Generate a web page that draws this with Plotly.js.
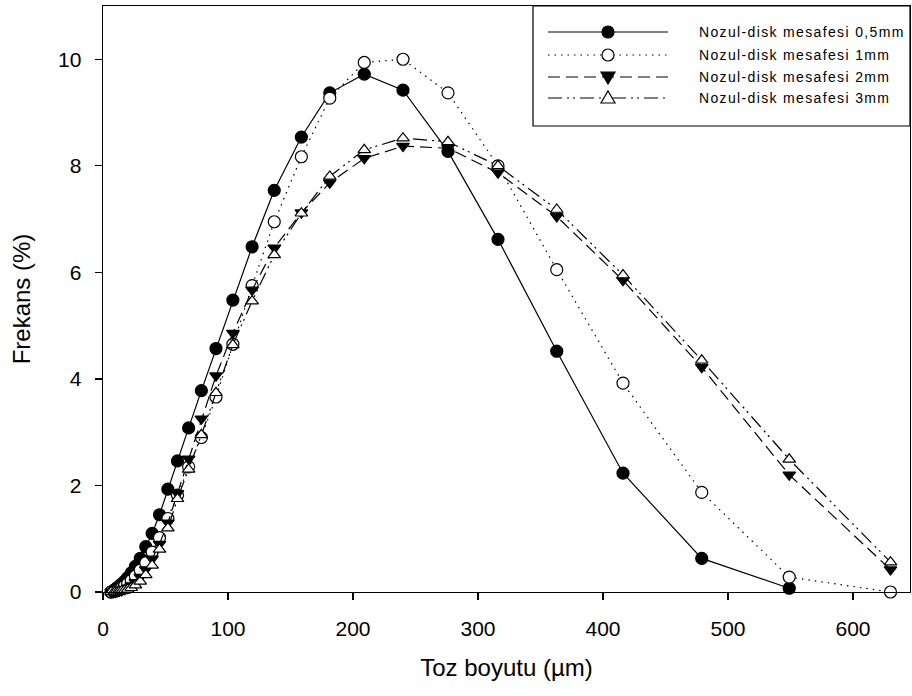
<!DOCTYPE html>
<html>
<head>
<meta charset="utf-8">
<script src="https://cdn.plot.ly/plotly-3.0.1.min.js"></script>
<style>
  html, body { margin: 0; padding: 0; background: #fff; }
  #chart { width: 912px; height: 696px; }
  text.annotation-text { letter-spacing: 1.35px; }
</style>
</head>
<body>
<div id="chart"></div>
<script>
// Particle size classes (µm)
const tozBoyutu = [6.5, 8.6, 9.8, 11.3, 13.0, 14.9, 17.1, 19.7, 22.6, 25.9, 29.8, 34.2, 39.3, 45.2,
  51.9, 59.6, 68.5, 78.7, 90.4, 103.9, 119.3, 137.0, 158.7, 181.4, 209.0, 240.0, 276.0, 316.0,
  363.0, 416.0, 479.0, 549.0, 630.0];

// Frequency (%) for each nozzle-disk distance
const frekans05mm = [0.0, 0.03, 0.05, 0.08, 0.11, 0.15, 0.20, 0.27, 0.36, 0.48, 0.63, 0.85, 1.10, 1.45,
  1.93, 2.46, 3.08, 3.78, 4.57, 5.48, 6.48, 7.54, 8.54, 9.37, 9.72, 9.42, 8.27, 6.62,
  4.52, 2.23, 0.63, 0.07, null];
const frekans1mm = [0.0, 0.01, 0.02, 0.03, 0.05, 0.08, 0.11, 0.16, 0.22, 0.30, 0.41, 0.55, 0.75, 1.02,
  1.38, 1.82, 2.35, 2.90, 3.66, 4.65, 5.75, 6.95, 8.17, 9.27, 9.94, 10.00, 9.37, 8.00,
  6.05, 3.92, 1.87, 0.28, 0.0];
const frekans2mm = [0.0, 0.0, 0.0, 0.01, 0.02, 0.03, 0.05, 0.08, 0.12, 0.18, 0.28, 0.42, 0.62, 0.90,
  1.30, 1.85, 2.50, 3.25, 4.06, 4.86, 5.67, 6.46, 7.12, 7.68, 8.14, 8.37, 8.33, 7.87,
  7.05, 5.85, 4.22, 2.20, 0.42];
const frekans3mm = [0.0, 0.0, 0.0, 0.0, 0.01, 0.02, 0.03, 0.05, 0.08, 0.13, 0.20, 0.32, 0.50, 0.80,
  1.20, 1.75, 2.30, 2.95, 3.74, 4.64, 5.46, 6.33, 7.11, 7.80, 8.30, 8.52, 8.45, 8.00,
  7.18, 5.95, 4.35, 2.49, 0.56];

const seriesNames = ['Nozul-disk mesafesi 0,5mm', 'Nozul-disk mesafesi 1mm',
  'Nozul-disk mesafesi 2mm', 'Nozul-disk mesafesi 3mm'];
const xTicks = [0, 100, 200, 300, 400, 500, 600];
const yTicks = [0, 2, 4, 6, 8, 10];

// Styles per series: line dash, marker symbol, marker fill
const dashes = ['solid', '1.5px,5px', '12px,6px', '14px,5px,2px,4px,2px,5px'];
const symbols = ['circle', 'circle', 'triangle-down', 'triangle-up'];
const fills = ['#000', '#fff', '#000', '#fff'];
const values = [frekans05mm, frekans1mm, frekans2mm, frekans3mm];

const traces = values.map((v, i) => ({
  type: 'scatter',
  mode: 'lines+markers',
  x: tozBoyutu,
  y: v,
  name: seriesNames[i],
  showlegend: false,
  cliponaxis: false,
  connectgaps: false,
  line: { color: '#000', width: 1.2, dash: dashes[i] },
  marker: { symbol: symbols[i], size: i < 2 ? 12 : 11, color: fills[i],
            line: { color: '#000', width: 1.2 } }
}));

// Plot geometry in pixels
const W = 912, H = 696;
const M = { l: 103, r: 2, t: 6, b: 104 };
const PW = W - M.l - M.r, PH = H - M.t - M.b;
const fx = px => (px - M.l) / PW;
const fy = py => (H - M.b - py) / PH;

// Legend box drawn with shapes: line sample, symbol, label
const shapes = [{
  type: 'rect', xref: 'paper', yref: 'paper',
  x0: fx(533), x1: fx(910), y0: fy(126), y1: fy(6),
  line: { color: '#000', width: 1.2 }, fillcolor: '#fff', layer: 'above'
}];
const annotations = [];
const rowY = [32, 55, 77, 98];
const sx0 = 548, sx1 = 668, sxm = 608, r = 6;
rowY.forEach((yy, i) => {
  shapes.push({
    type: 'line', xref: 'paper', yref: 'paper',
    x0: fx(sx0), x1: fx(sx1), y0: fy(yy), y1: fy(yy),
    line: { color: '#000', width: 1.2, dash: dashes[i] }, layer: 'above'
  });
  let sym;
  if (symbols[i] === 'circle') {
    sym = { type: 'circle', x0: fx(sxm - r), x1: fx(sxm + r), y0: fy(yy + r), y1: fy(yy - r) };
  } else if (symbols[i] === 'triangle-down') {
    sym = { type: 'path', path: `M${fx(sxm - 7)},${fy(yy - 5)} L${fx(sxm + 7)},${fy(yy - 5)} L${fx(sxm)},${fy(yy + 7)} Z` };
  } else {
    sym = { type: 'path', path: `M${fx(sxm - 7)},${fy(yy + 5)} L${fx(sxm + 7)},${fy(yy + 5)} L${fx(sxm)},${fy(yy - 7)} Z` };
  }
  Object.assign(sym, { xref: 'paper', yref: 'paper', fillcolor: fills[i],
    line: { color: '#000', width: 1.2 }, layer: 'above' });
  shapes.push(sym);
  annotations.push({
    xref: 'paper', yref: 'paper', x: fx(697), y: fy(yy),
    xanchor: 'left', yanchor: 'middle', showarrow: false,
    text: seriesNames[i],
    font: { family: 'Liberation Sans, Arial, sans-serif', size: 14, color: '#000' }
  });
});

const axisFont = { family: 'Liberation Sans, Arial, sans-serif', size: 21, color: '#000' };
const titleFont = { family: 'Liberation Sans, Arial, sans-serif', size: 24, color: '#000' };
const layout = {
  width: W, height: H,
  margin: M,
  paper_bgcolor: '#fff', plot_bgcolor: '#fff',
  showlegend: false,
  xaxis: {
    range: [0, 645.6], tickvals: xTicks, ticktext: xTicks.map(String),
    ticks: 'outside', ticklen: 7, tickwidth: 1.2, tickcolor: '#000',
    ticklabelstandoff: 10,
    showline: true, linecolor: '#000', linewidth: 1.4, mirror: true,
    showgrid: false, zeroline: false, tickfont: axisFont,
    title: { text: 'Toz boyutu (µm)', font: titleFont, standoff: 20 },
    automargin: false
  },
  yaxis: {
    range: [0, 11], tickvals: yTicks, ticktext: yTicks.map(String),
    ticks: 'outside', ticklen: 7, tickwidth: 1.2, tickcolor: '#000',
    ticklabelstandoff: 9,
    showline: true, linecolor: '#000', linewidth: 1.4, mirror: true,
    showgrid: false, zeroline: false, tickfont: axisFont,
    title: { text: 'Frekans (%)', font: titleFont, standoff: 20 },
    automargin: false
  },
  shapes: shapes,
  annotations: annotations
};

Plotly.newPlot('chart', traces, layout, { staticPlot: true, displayModeBar: false });
</script>
</body>
</html>
